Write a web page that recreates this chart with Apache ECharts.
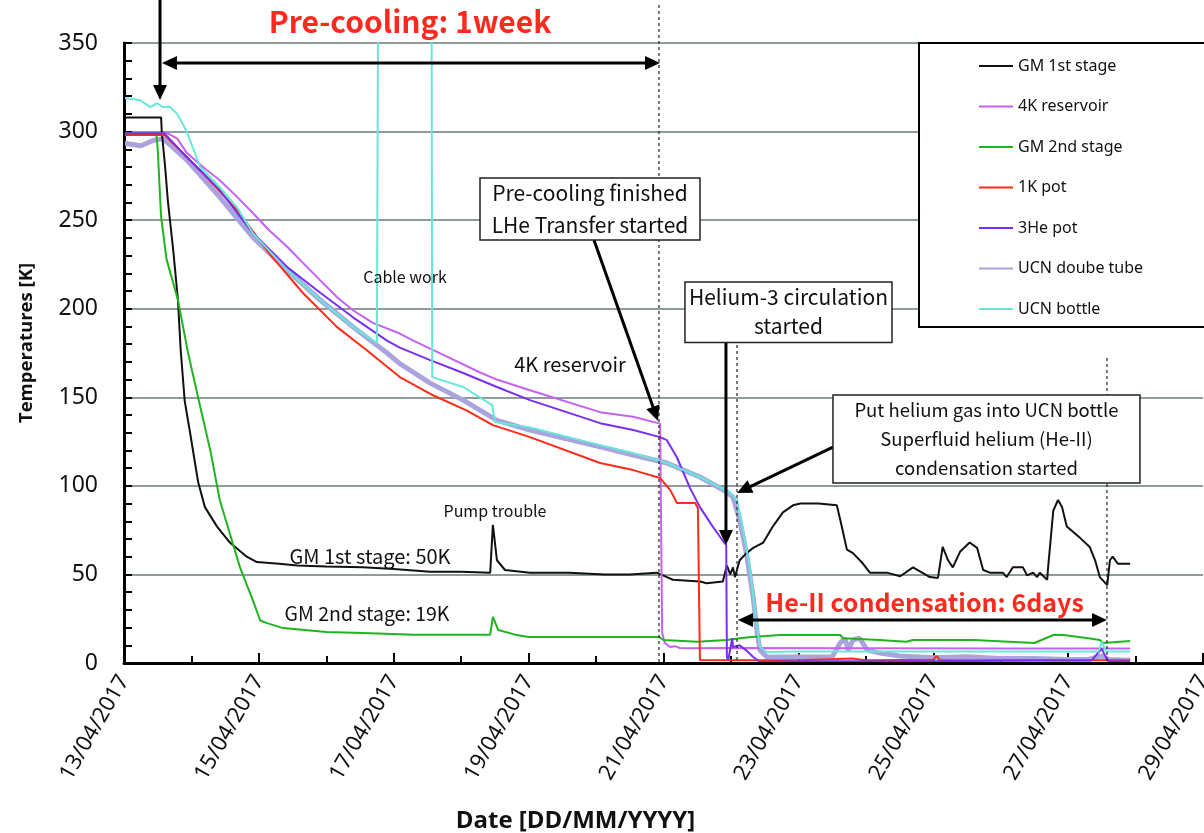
<!DOCTYPE html>
<html>
<head>
<meta charset="utf-8">
<script src="https://cdn.jsdelivr.net/npm/echarts@6/dist/echarts.min.js"></script>
<style>
html,body{margin:0;padding:0;background:#fff}
#main{width:1204px;height:833px}
</style>
</head>
<body>
<div id="main"></div>
<script>
// x = days since 13/04/2017 00:00, y = temperature [K]
var dateLabels = ['13/04/2017', '15/04/2017', '17/04/2017', '19/04/2017', '21/04/2017',
	'23/04/2017', '25/04/2017', '27/04/2017', '29/04/2017'];

var gm1st = [[0,308],[0.55,308],[0.56,300],[0.61,280],[0.65,261],[0.73,233],[0.80,205],[0.84,177],[0.90,148],[0.98,130],
	[1.10,102],[1.20,88],[1.38,77],[1.57,68],[1.82,60],[1.97,57],[2.3,56],[2.57,55],[3.0,54.5],[3.54,54],[4.0,53],
	[4.54,51.5],[5.0,51.5],[5.43,51],[5.47,78],[5.53,58],[5.65,52.5],[6.02,51],[6.6,51],[7.13,50],[7.5,50],[7.90,51],
	[8.05,48.5],[8.14,47],[8.54,46],[8.64,45],[8.88,46],[8.94,55],[8.99,50],[9.03,54],[9.06,48.5],[9.13,58],[9.23,62],
	[9.33,65],[9.48,68],[9.62,77],[9.77,85],[9.92,89],[10.03,90],[10.3,90],[10.57,89],[10.62,81],[10.72,64],[10.81,62],
	[10.96,56],[11.06,51],[11.31,51],[11.51,49],[11.70,54],[11.95,48.5],[12.07,48],[12.14,65.5],[12.22,58],[12.29,54],
	[12.40,63],[12.54,68],[12.65,65],[12.74,52.5],[12.84,51],[13.03,51],[13.09,48.5],[13.18,54],[13.33,54],[13.39,49.5],
	[13.48,51],[13.54,48.5],[13.58,51],[13.69,47],[13.70,52.5],[13.78,86],[13.85,92],[13.91,88],[13.98,77],[14.18,70.5],
	[14.32,65.5],[14.40,58],[14.47,48.5],[14.58,44],[14.62,58],[14.66,60],[14.74,56],[14.92,56]];

var res4k = [[0,299],[0.6,299],[0.65,299],[0.79,296],[0.93,288],[1.17,280],[1.42,272.5],[1.68,263],[1.91,254],[2.16,244],
	[2.42,235],[2.65,226],[2.91,216],[3.16,206.5],[3.40,199],[3.69,192],[4.09,186],[4.29,182],[4.79,173],[5.28,164],
	[5.53,160],[6.02,154],[7.06,141.6],[7.55,139],[7.92,135.4],[7.95,135],[7.98,17],[8.02,11.3],[8.10,9],[8.17,9.5],
	[8.24,8.5],[8.39,8.3],[9.0,8.4],[11,8.3],[13,8.2],[14.92,8.2]];

var gm2nd = [[0,299],[0.48,299],[0.50,290],[0.55,252],[0.63,228],[0.80,205],[0.95,175],[1.11,148],[1.28,120],[1.42,92],
	[1.57,73],[1.72,54],[1.91,35.5],[2.02,24],[2.12,22.5],[2.36,19.7],[3.0,17.5],[3.55,17],[4.3,16],[5.43,16],[5.47,26],
	[5.55,18.6],[5.8,16],[6.0,14.7],[7.0,14.7],[7.93,14.7],[8.0,13],[8.5,12],[8.94,13],[9.13,14],[9.3,14.7],[9.73,15.8],
	[10.62,15.8],[10.66,14],[11.2,13],[11.6,12],[11.7,13],[12.6,13],[13.5,11.3],[13.78,15.8],[13.93,15.8],[14.3,14],
	[14.47,13],[14.52,11.3],[14.92,12.4]];

var pot1k = [[0,298],[0.6,298],[0.83,289.5],[1.17,276.5],[1.68,255.6],[2.16,231],[2.65,209],[3.16,189.6],[3.60,176.6],
	[4.09,161.4],[4.59,151],[5.07,142.8],[5.47,134.3],[6.02,127.5],[7.06,112.9],[7.55,108.9],[7.95,104.4],[8.10,97.6],
	[8.20,90.3],[8.47,90.3],[8.51,87.5],[8.54,1.7],[9.0,1.5],[10,1.5],[10.8,2.5],[11,1.5],[12,1.8],[12.05,4],[12.1,1.5],
	[13,1.5],[14,1.5],[14.92,1.5]];

var pot3he = [[0,299],[0.6,299],[0.93,285.6],[1.42,267],[1.91,242.7],[2.42,223.5],[2.91,209],[3.40,195],[3.90,182],
	[4.09,178],[4.54,171],[5.03,163.7],[5.53,155.8],[6.02,148.4],[7.06,135.4],[7.55,131.5],[7.95,127.5],[8.05,125.8],
	[8.20,116],[8.39,99],[8.54,88],[8.73,77],[8.88,69],[8.93,66.6],[8.94,3.4],[8.96,1.7],[9.02,14],[9.03,9],[9.13,10],
	[9.23,7],[9.33,3.4],[9.43,0.6],[10,1],[12,1],[14.35,1.5],[14.45,6],[14.5,8],[14.55,4],[14.6,1],[14.92,1]];

var ucnTube = [[0,293.4],[0.25,292],[0.43,295],[0.58,296],[0.93,284],[1.42,263],[1.91,240.4],[2.42,221.8],[2.91,204.9],
	[3.40,189.6],[3.90,175],[4.09,169],[4.54,158],[5.03,148.4],[5.53,137],[6.02,131.5],[7.06,122],[7.55,117.4],
	[8.05,112.9],[8.54,105],[8.94,96.5],[9.03,93.7],[9.13,80.7],[9.23,62],[9.33,37],[9.39,17],[9.43,7.3],[9.53,3.4],
	[10.5,3.4],[10.62,11.3],[10.69,14],[10.74,7.3],[10.81,13],[10.91,14],[11.02,7.3],[11.21,5.6],[11.5,4],[12,3],
	[12.5,3.5],[13,2.5],[13.5,2.5],[14,2],[14.3,2],[14.5,4],[14.6,2],[14.92,1.5]];

var ucnBottle = [[0,319],[0.24,317.7],[0.39,313.8],[0.49,316],[0.58,313.8],[0.68,314],[0.79,310],[0.93,300],[1.13,280],
	[1.42,268.6],[1.68,257],[1.91,242.7],[2.42,221.8],[2.91,204.9],[3.40,189.6],[3.75,180.6],[3.77,400],[4.56,400],
	[4.57,161.4],[5.03,155.8],[5.46,145.6],[5.50,136],[6.02,133],[7.06,123],[7.55,118.5],[8.05,112.9],[8.54,105],
	[8.99,96],[9.09,92],[9.18,75],[9.28,54],[9.36,28],[9.43,9],[9.53,6.2],[10,6.5],[12,6.5],[14.45,6.5],[14.5,12],
	[14.56,6.5],[14.92,6.5]];

var seriesNames = ['GM 1st stage', '4K reservoir', 'GM 2nd stage', '1K pot', '3He pot', 'UCN doube tube', 'UCN bottle'];
var seriesData = [gm1st, res4k, gm2nd, pot1k, pot3he, ucnTube, ucnBottle];
var seriesColors = ['#111111', '#c462f2', '#1fb51f', '#ff2b16', '#7a2ff0', '#aaa4de', '#66e8d8'];
var seriesWidths = [2, 2, 2, 2, 2, 5, 2];

var series = [];
for (var i = 0; i < seriesNames.length; i++) {
	series.push({
		name: seriesNames[i],
		type: 'line',
		symbol: 'none',
		data: seriesData[i],
		lineStyle: {color: seriesColors[i], width: seriesWidths[i]},
		itemStyle: {color: seriesColors[i]},
		z: i == 5 ? 1 : 2
	});
}

var labelFont = 'Noto Sans';
var noteFont = 'Noto Sans CJK JP';

var option = {
	animation: false,
	backgroundColor: '#fff',
	grid: {left: 124, top: 43, right: 1, bottom: 170, outerBoundsMode: 'none', containLabel: false},
	legend: {
		orient: 'vertical',
		left: 919, top: 43,
		padding: [15, 100, 10, 59],
		itemGap: 24.5,
		itemWidth: 34,
		itemHeight: 14,
		itemStyle: {opacity: 0},
		backgroundColor: '#fff',
		borderColor: '#000',
		borderWidth: 2,
		textStyle: {fontFamily: labelFont, fontSize: 16, color: '#111'},
		data: seriesNames
	},
	xAxis: [{
		type: 'value', min: 0, max: 16, interval: 2,
		name: 'Date [DD/MM/YYYY]',
		nameLocation: 'middle', nameGap: 146,
		nameTextStyle: {fontFamily: 'Open Sans', fontWeight: 'bold', fontSize: 24, color: '#111', padding: [0, 176, 0, 0]},
		axisLine: {lineStyle: {color: '#000', width: 3}},
		axisTick: {inside: true, length: 10, lineStyle: {color: '#000', width: 2}},
		minorTick: {show: true, splitNumber: 2, length: 7, lineStyle: {color: '#000', width: 2}},
		splitLine: {show: false},
		axisLabel: {
			rotate: 60, margin: 14, fontFamily: labelFont, fontSize: 22, color: '#111',
			formatter: function(v) { return dateLabels[Math.round(v / 2)]; }
		}
	}, {
		type: 'value', min: 0, max: 16, position: 'top', z: 5,
		axisLine: {show: true, lineStyle: {color: '#000', width: 2}},
		axisTick: {show: false}, axisLabel: {show: false}, splitLine: {show: false}
	}],
	yAxis: [{
		type: 'value', min: 0, max: 350, interval: 50,
		name: 'Temperatures [K]',
		nameLocation: 'middle', nameGap: 88,
		nameTextStyle: {fontFamily: 'Open Sans', fontWeight: 'bold', fontSize: 18.5, color: '#111', padding: [0, 0, 0, 20]},
		axisLine: {show: true, lineStyle: {color: '#000', width: 3}},
		axisTick: {inside: true, length: 8, lineStyle: {color: '#000', width: 2}},
		minorTick: {show: true, splitNumber: 5, length: 8, lineStyle: {color: '#000', width: 2}},
		splitLine: {show: true, lineStyle: {color: '#8f9c9b', width: 2}},
		axisLabel: {margin: 26, fontFamily: labelFont, fontSize: 23, color: '#111'}
	}, {
		type: 'value', min: 0, max: 350, position: 'right', z: 5,
		axisLine: {show: true, lineStyle: {color: '#000', width: 2}},
		axisTick: {show: false}, axisLabel: {show: false}, splitLine: {show: false}
	}],
	series: series
};

var chart = echarts.init(document.getElementById('main'));
chart.setOption(option);

// annotations, placed in data units (days, K)
function P(d, t) {
	return chart.convertToPixel({xAxisIndex: 0, yAxisIndex: 0}, [d, t]);
}

function head(tip, from) {
	var dx = tip[0] - from[0], dy = tip[1] - from[1];
	var len = Math.sqrt(dx * dx + dy * dy);
	dx /= len; dy /= len;
	var L = 15, W = 7;
	var bx = tip[0] - dx * L, by = tip[1] - dy * L;
	return {type: 'polygon', z: 100, shape: {points: [tip, [bx - dy * W, by + dx * W], [bx + dy * W, by - dx * W]]}, style: {fill: '#000'}};
}

function arrow(a, b, both) {
	var p1 = P(a[0], a[1]), p2 = P(b[0], b[1]);
	var dx = p2[0] - p1[0], dy = p2[1] - p1[1];
	var len = Math.sqrt(dx * dx + dy * dy);
	dx /= len; dy /= len;
	var s = both ? 10 : 0;
	var els = [{type: 'line', z: 99, shape: {x1: p1[0] + dx * s, y1: p1[1] + dy * s, x2: p2[0] - dx * 10, y2: p2[1] - dy * 10},
		style: {stroke: '#000', lineWidth: 3}}];
	els.push(head(p2, p1));
	if (both) els.push(head(p1, p2));
	return els;
}

function dotted(d, t) {
	var p1 = P(d, t), p2 = P(d, 0);
	return {type: 'line', z: 98, shape: {x1: p1[0], y1: p1[1], x2: p2[0], y2: p2[1]},
		style: {stroke: '#222', lineWidth: 1.2, lineDash: [3, 3]}};
}

function box(a, b) {
	var p1 = P(a[0], a[1]), p2 = P(b[0], b[1]);
	return {type: 'rect', z: 101, shape: {x: p1[0], y: p1[1], width: p2[0] - p1[0], height: p2[1] - p1[1]},
		style: {fill: '#fff', stroke: '#222', lineWidth: 1.5}};
}

function note(d, t, text, size, color, weight, lh) {
	var p = P(d, t);
	return {type: 'text', z: 102, x: p[0], y: p[1], style: {
		text: text, align: 'center', verticalAlign: 'middle', fill: color || '#111',
		font: (weight || 'normal') + ' ' + size + 'px "' + noteFont + '"', lineHeight: lh || size * 1.3
	}};
}

var g = [];
g = g.concat(arrow([0.534, 374.3], [0.534, 317.8]));
g = g.concat(arrow([0.563, 338.7], [7.948, 338.7], true));
g.push(note(4.241, 361.9, 'Pre-cooling: 1week', 30, '#ff2a1f', 'bold'));
g.push(dotted(7.933, 371.5));
g.push(dotted(9.090, 179.5));
g.push(dotted(14.576, 172.2));
g = g.concat(arrow([6.969, 238.8], [7.918, 136.6]));
g = g.concat(arrow([8.926, 180.9], [8.926, 66.6]));
g = g.concat(arrow([10.513, 121.9], [9.090, 96.0]));
g = g.concat(arrow([9.104, 24.3], [14.576, 24.3], true));
g.push(box([5.279, 273.8], [8.541, 238.8]));
g.push(note(6.910, 256.3, 'Pre-cooling finished\nLHe Transfer started', 21, '#111', 'normal', 32));
g.push(box([8.318, 215.1], [11.388, 180.9]));
g.push(note(9.853, 198.2, 'Helium-3 circulation\nstarted', 21, '#111', 'normal', 29));
g.push(box([10.513, 151.3], [15.065, 101.6]));
g.push(note(12.789, 126.5, 'Put helium gas into UCN bottle\nSuperfluid helium (He-II)\ncondensation started', 18.5, '#111', 'normal', 29));
g.push(note(11.87, 34.4, 'He-II condensation: 6days', 25, '#ff2a1f', 'bold'));
g.push(note(4.167, 217.9, 'Cable work', 16));
g.push(note(6.613, 168.8, '4K reservoir', 20));
g.push(note(5.501, 85.8, 'Pump trouble', 16));
g.push(note(3.648, 60.4, 'GM 1st stage: 50K', 20));
g.push(note(3.603, 27.7, 'GM 2nd stage: 19K', 19.5));

chart.setOption({graphic: {elements: g}});
</script>
</body>
</html>
